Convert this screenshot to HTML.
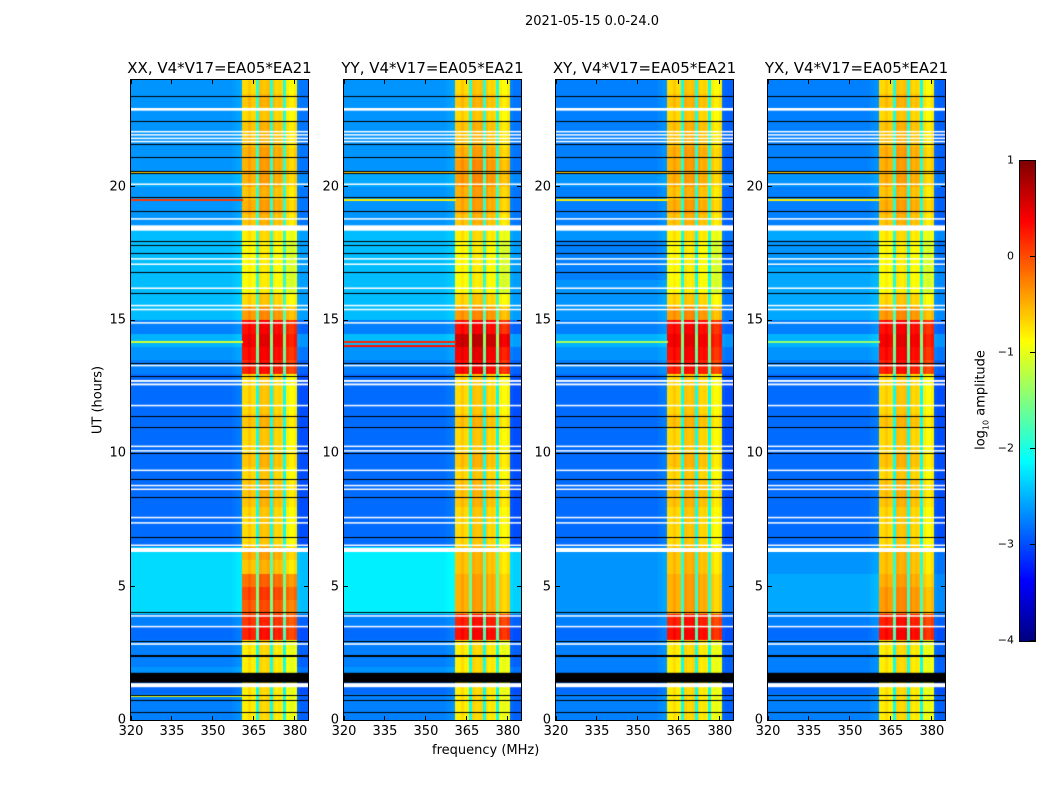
<!DOCTYPE html>
<html><head><meta charset="utf-8">
<style>
body{margin:0;background:#fff;width:1050px;height:800px;position:relative;overflow:hidden;font-family:"DejaVu Sans","Liberation Sans",sans-serif;color:#000}
.t{position:absolute;white-space:nowrap}
canvas{position:absolute}
.ax{position:absolute;border:1px solid #000;box-sizing:border-box}
</style></head><body>
<div class="t" style="left:525px;top:14px;font-size:13px">2021-05-15 0.0-24.0</div>
<div class="t" style="left:98px;top:400px;font-size:13px;transform:translate(-50%,-50%) rotate(-90deg)">UT (hours)</div>
<div class="t" style="left:432px;top:743px;font-size:13px">frequency (MHz)</div>
<div id="root"></div>
<canvas id="cb" width="15" height="480" style="left:1019px;top:160px;border:1px solid #000;box-sizing:content-box"></canvas>
<div class="t" style="left:982px;top:400px;font-size:13px;transform:translate(-50%,-50%) rotate(-90deg)">log<sub style="font-size:8px">10</sub> amplitude</div>
<div id="cbt"></div>
<script>
const panelNames=["XX","YY","XY","YX"];
const panelLeft=[131,344,556,768];
const freqs=[];for(let f=320;f<=384;f++)freqs.push(f);
const colWeight=[0,0,0,0,0,0,0,0,0,0,0,0,0,0,0,0,0,0,0,0,0,0,0,0,0,0,0,0,0,0,0,0,0,0,0,0,0,0,0,0,0,1,1,1,1,1,0.35,1,1,1,1,0.35,1,1,1,1,0.35,1,1,1,1,0,0,0,0];
const colOffset=[0,0,0,0,0,0,0,0,0,0,0,0,0,0,0,0,0,0,0,0,0,0,0,0,0,0,0,0,0,0,0,0,0,0,0,0,0,0.05,0.1,0.15,0.2,0,0,0.1,0,0,0,0.15,0.1,0.1,0.15,0,0.1,0,0.05,0,0,-0.1,-0.2,-0.2,-0.1,-0.2,-0.3,-0.3,-0.3];
const bgXX=[-2.75,-2.75,-2.85,-2.65,-2.75,-2.75,-2.85,-2.75,-2.3,-2.3,-2.3,-2.3,-2.3,-2.85,-2.85,-2.85,-2.85,-2.85,-2.85,-2.85,-2.85,-2.85,-2.85,-2.85,-2.85,-2.85,-2.75,-2.65,-2.5,-2.75,-2.45,-2.45,-2.45,-2.45,-2.45,-2.45,-2.45,-2.65,-2.65,-2.65,-2.55,-2.65,-2.65,-2.65,-2.65,-2.65,-2.65,-2.65];
const bandXX=[-0.8,-0.8,-0.8,-0.8,-0.8,-0.8,0.2,0.1,-0.1,0.0,-0.2,-0.6,-0.5,-0.7,-0.7,-0.7,-0.6,-0.6,-0.7,-0.6,-0.7,-0.7,-0.6,-0.7,-0.7,-0.7,0.2,0.3,0.4,0.3,-0.4,-0.7,-0.9,-0.9,-0.9,-0.9,-0.8,-0.6,-0.5,-0.6,-0.5,-0.5,-0.5,-0.6,-0.6,-0.7,-0.6,-0.7];
const bgYY=[-2.75,-2.75,-2.85,-2.65,-2.75,-2.75,-2.85,-2.75,-2.2,-2.2,-2.2,-2.2,-2.2,-2.85,-2.85,-2.85,-2.85,-2.85,-2.85,-2.85,-2.85,-2.85,-2.85,-2.85,-2.85,-2.85,-2.75,-2.65,-2.45,-2.75,-2.45,-2.45,-2.45,-2.45,-2.45,-2.45,-2.45,-2.65,-2.65,-2.65,-2.55,-2.65,-2.65,-2.65,-2.65,-2.65,-2.65,-2.65];
const bandYY=[-0.8,-0.8,-0.8,-0.8,-0.8,-0.8,0.3,0.2,-0.5,-0.5,-0.5,-0.6,-0.6,-0.7,-0.7,-0.7,-0.6,-0.6,-0.7,-0.6,-0.7,-0.7,-0.6,-0.7,-0.7,-0.7,0.3,0.4,0.6,0.3,-0.4,-0.7,-0.9,-0.9,-0.9,-0.9,-0.8,-0.6,-0.5,-0.5,-0.4,-0.4,-0.5,-0.6,-0.6,-0.7,-0.6,-0.7];
const bgXY=[-2.75,-2.75,-2.85,-2.75,-2.75,-2.75,-2.85,-2.75,-2.65,-2.65,-2.65,-2.65,-2.65,-2.85,-2.85,-2.85,-2.85,-2.85,-2.85,-2.85,-2.85,-2.85,-2.85,-2.85,-2.85,-2.85,-2.75,-2.65,-2.5,-2.75,-2.65,-2.65,-2.65,-2.75,-2.75,-2.75,-2.65,-2.75,-2.75,-2.75,-2.65,-2.75,-2.75,-2.75,-2.75,-2.75,-2.75,-2.75];
const bandXY=[-0.8,-0.8,-0.8,-0.8,-0.8,-0.8,0.3,0.2,-0.5,-0.5,-0.5,-0.6,-0.6,-0.7,-0.7,-0.7,-0.6,-0.6,-0.7,-0.6,-0.7,-0.7,-0.6,-0.7,-0.7,-0.7,0.2,0.3,0.4,0.3,-0.4,-0.7,-0.9,-0.9,-0.9,-0.9,-0.8,-0.6,-0.5,-0.6,-0.5,-0.5,-0.5,-0.6,-0.6,-0.7,-0.6,-0.7];
const bgYX=[-2.75,-2.75,-2.85,-2.75,-2.75,-2.75,-2.85,-2.75,-2.55,-2.55,-2.55,-2.65,-2.65,-2.85,-2.85,-2.85,-2.85,-2.85,-2.85,-2.85,-2.85,-2.85,-2.85,-2.85,-2.85,-2.85,-2.75,-2.65,-2.5,-2.75,-2.55,-2.55,-2.55,-2.55,-2.65,-2.65,-2.55,-2.75,-2.75,-2.75,-2.65,-2.75,-2.75,-2.75,-2.75,-2.75,-2.75,-2.75];
const bandYX=[-0.8,-0.8,-0.8,-0.8,-0.8,-0.8,0.3,0.2,-0.4,-0.4,-0.5,-0.6,-0.6,-0.7,-0.7,-0.7,-0.6,-0.6,-0.7,-0.6,-0.7,-0.7,-0.6,-0.7,-0.7,-0.7,0.2,0.3,0.4,0.3,-0.4,-0.7,-0.9,-0.9,-0.9,-0.9,-0.8,-0.6,-0.5,-0.6,-0.5,-0.5,-0.5,-0.6,-0.6,-0.7,-0.6,-0.7];
const bgAll=[bgXX,bgYY,bgXY,bgYX];
const bandAll=[bandXX,bandYY,bandXY,bandYX];
// narrow RFI lines: [hour, value] per panel
const rfiXX=[[14.2,-1.1],[19.55,0.1],[20.6,-0.6],[0.95,-1.0]];
const rfiYY=[[14.05,0.3],[14.2,0.2],[20.6,-0.6],[19.55,-0.8]];
const rfiXY=[[14.2,-1.3],[19.55,-0.8],[20.6,-0.6]];
const rfiYX=[[14.2,-1.4],[19.55,-0.8],[20.6,-0.6]];
const rfiAll=[rfiXX,rfiYY,rfiXY,rfiYX];
const whiteFlags=[[1.23,1.38],[2.82,2.88],[3.48,3.53],[3.88,3.93],[6.3,6.45],[6.53,6.58],[7.38,7.42],[7.58,7.62],[8.64,8.68],[8.78,8.82],[9.35,9.39],[10.08,10.12],[10.25,10.29],[11.78,11.82],[12.55,12.62],[12.68,12.75],[13.28,13.32],[14.88,14.92],[15.38,15.42],[15.53,15.57],[16.18,16.22],[17.08,17.12],[17.28,17.32],[18.35,18.55],[18.78,18.82],[20.08,20.12],[21.68,21.72],[21.8,21.84],[21.93,21.97],[22.05,22.09],[22.85,22.95]];
const blackLines=[0.3,0.75,0.95,2.4,2.45,2.96,4.05,6.86,8.35,9.04,10.0,11.0,11.4,12.9,13.4,16.0,16.8,17.5,17.8,17.96,19.1,19.6,20.5,20.6,21.1,21.6,22.46,23.4];
const blackBands=[[1.4,1.77]];
const xTicks=[320,335,350,365,380];
const yTicks=[0,5,10,15,20];
const cbTicks=[1,0,-1,-2,-3,-4];
const fMin=320,fMax=384.8,tMin=0,tMax=24,vMin=-4,vMax=1,W=177,H=640,TOP=80;

function jet(v){let x=(v-vMin)/(vMax-vMin);x=Math.max(0,Math.min(1,x));
 const c=t=>Math.round(255*Math.max(0,Math.min(1,1.5-Math.abs(4*x-t))));
 return `rgb(${c(3)},${c(2)},${c(1)})`;}
const xS=f=>(f-fMin)/(fMax-fMin)*W;
const yS=t=>H-(t-tMin)/(tMax-tMin)*H;
const root=document.getElementById('root');
panelNames.forEach((nm,p)=>{
 const L=panelLeft[p];
 const t=document.createElement('div');t.className='t';
 
 
 t.style.cssText=`left:${L+W/2}px;top:59px;font-size:15px;transform:translateX(-50%)`;
 t.textContent=nm+', V4*V17=EA05*EA21';root.appendChild(t);
 const cv=document.createElement('canvas');cv.width=W;cv.height=H;
 cv.style.left=L+'px';cv.style.top=TOP+'px';
 
 
 root.appendChild(cv);
 const ctx=cv.getContext('2d');
 const bg=bgAll[p],bd=bandAll[p];
 for(let r=0;r<bg.length;r++){
  const t0=r*0.5,t1=t0+0.5;
  for(let c=0;c<freqs.length;c++){
   const v=bg[r]+colWeight[c]*(bd[r]-bg[r])+colOffset[c]*(colWeight[c]>0?1:0.5);
   ctx.fillStyle=jet(v);
   const x0=xS(freqs[c]),x1=xS(freqs[c]+1);
   ctx.fillRect(Math.floor(x0),Math.floor(yS(t1)),Math.ceil(x1)-Math.floor(x0),Math.ceil(yS(t0))-Math.floor(yS(t1)));
  }
 }
 rfiAll[p].forEach(l=>{ctx.fillStyle=jet(l[1]);ctx.fillRect(0,Math.round(yS(l[0])),xS(361),2);});
 ctx.fillStyle='#fff';
 whiteFlags.forEach(w=>{const a=yS(w[1]),b=yS(w[0]);ctx.fillRect(0,a,W,Math.max(1.5,b-a));});
 ctx.fillStyle='#000';
 blackLines.forEach(l=>{ctx.fillRect(0,Math.round(yS(l)),W,1);});
 blackBands.forEach(w=>{const a=yS(w[1]),b=yS(w[0]);ctx.fillRect(0,a,W,b-a);});
 const ax=document.createElement('div');ax.className='ax';
 
 
 ax.style.cssText=`left:${L-1}px;top:${TOP-1}px;width:${W+2}px;height:${H+2}px`;
 root.appendChild(ax);
 xTicks.forEach(f=>{const x=L+xS(f);
  const lb=document.createElement('div');lb.className='t';
  
  
  lb.style.cssText=`left:${x}px;top:${TOP+H+4}px;font-size:13px;transform:translateX(-50%)`;lb.textContent=f;root.appendChild(lb);
  [TOP,TOP+H-4].forEach(y=>{const tk=document.createElement('div');
   
   
   tk.style.cssText=`position:absolute;left:${x-0.5}px;top:${y}px;width:1px;height:4px;background:#000`;root.appendChild(tk);});
 });
 yTicks.forEach(v=>{const y=TOP+yS(v);
  const lb=document.createElement('div');lb.className='t';
  
  
  lb.style.cssText=`left:${L-5}px;top:${y}px;font-size:13px;transform:translate(-100%,-50%)`;lb.textContent=v;root.appendChild(lb);
  [L,L+W-4].forEach(x=>{const tk=document.createElement('div');
   
   
   tk.style.cssText=`position:absolute;left:${x}px;top:${y-0.5}px;width:4px;height:1px;background:#000`;root.appendChild(tk);});
 });
});
const cb=document.getElementById('cb').getContext('2d');
for(let y=0;y<480;y++){cb.fillStyle=jet(vMax-(y+0.5)/480*(vMax-vMin));cb.fillRect(0,y,15,1);}
const cbt=document.getElementById('cbt');
cbTicks.forEach(v=>{const y=160+(vMax-v)/(vMax-vMin)*480;
 const lb=document.createElement('div');lb.className='t';
 
 
 lb.style.cssText=`left:1014px;top:${y}px;font-size:11px;transform:translate(-100%,-50%)`;
 lb.textContent=v<0?'\u2212'+(-v):v;cbt.appendChild(lb);
 const tk=document.createElement('div');
 
 
 tk.style.cssText=`position:absolute;left:1030px;top:${y-0.5}px;width:5px;height:1px;background:#000`;cbt.appendChild(tk);
});
</script>
</body></html>
